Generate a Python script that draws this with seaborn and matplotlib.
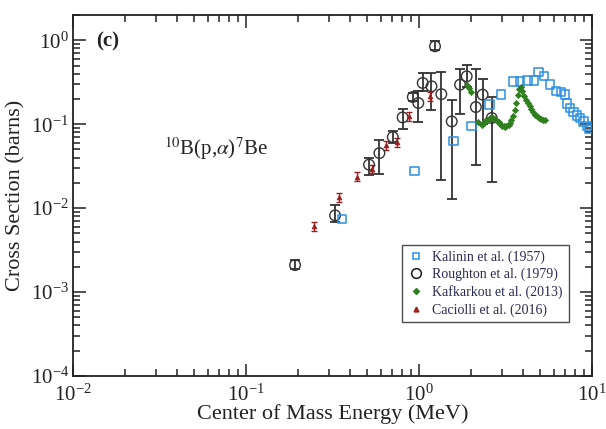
import numpy as np
import pandas as pd
import seaborn as sns
import matplotlib
matplotlib.use("Agg")
import matplotlib.pyplot as plt
from matplotlib.lines import Line2D

# ---- data ----
kal_x = [0.359, 0.94, 1.58, 2.01, 2.55, 2.98, 3.51, 3.84, 4.23, 4.62, 4.90, 5.29,
         5.72, 6.17, 6.59, 6.98, 7.14, 7.46, 7.80, 8.15, 8.53, 8.91, 9.33, 9.61]
kal_y = [0.0074, 0.0279, 0.0636, 0.096, 0.171, 0.225, 0.324, 0.324, 0.333, 0.333, 0.42, 0.372,
         0.296, 0.251, 0.24, 0.225, 0.176, 0.156, 0.140, 0.127, 0.1186, 0.108, 0.096, 0.0877]

rou_x = [0.192, 0.327, 0.514, 0.59, 0.705, 0.804, 0.92, 0.99, 1.05, 1.18, 1.237,
         1.345, 1.545, 1.726, 1.885, 2.13, 2.33, 2.63]
rou_y = [0.0021, 0.0082, 0.033, 0.0453, 0.0703, 0.1205, 0.211, 0.179, 0.31, 0.283, 0.848,
         0.228, 0.108, 0.296, 0.372, 0.160, 0.225, 0.1186]
rou_lo = [0.0019, 0.0069, 0.025, 0.0255, 0.060, 0.0877, 0.19, 0.106, 0.246, 0.149, 0.76,
          0.0218, 0.0129, 0.133, 0.278, 0.0323, 0.10, 0.0207]
rou_hi = [0.0024, 0.011, 0.0398, 0.0653, 0.0836, 0.152, 0.235, 0.251, 0.408, 0.408, 0.973,
          0.42, 0.196, 0.456, 0.513, 0.46, 0.346, 0.211]

kaf_x = [1.895, 1.95, 2.0, 2.2, 2.31, 2.36, 2.41, 2.46, 2.51, 2.57, 2.62, 2.68, 2.75,
         2.82, 2.88, 2.95, 3.02, 3.08, 3.14, 3.2, 3.29, 3.35, 3.40, 3.5, 3.59, 3.64,
         3.71, 3.78, 3.86, 3.96, 4.05, 4.15, 4.25, 4.35, 4.45, 4.56, 4.68, 4.81, 4.94,
         5.07, 5.2, 5.35]
kaf_y = [0.296, 0.27, 0.244, 0.105, 0.0986, 0.103, 0.108, 0.111, 0.113, 0.118, 0.122, 0.119, 0.115,
         0.11, 0.105, 0.1, 0.096, 0.094, 0.0926, 0.094, 0.0986, 0.104, 0.111, 0.127, 0.149, 0.179,
         0.225, 0.263, 0.278, 0.246, 0.218, 0.196, 0.178, 0.163, 0.15, 0.138, 0.13, 0.124, 0.119,
         0.115, 0.113, 0.111]

cac_x = [0.247, 0.345, 0.44, 0.537, 0.64, 0.743, 0.873, 1.15]
cac_y = [0.00615, 0.0135, 0.0238, 0.0295, 0.0563, 0.0615, 0.125, 0.217]
cac_rel = 0.12

labels = ["Kalinin et al. (1957)", "Roughton et al. (1979)",
          "Kafkarkou et al. (2013)", "Caciolli et al. (2016)"]

# ---- style ----
sns.set_theme(style="ticks")
plt.rcParams["font.family"] = ["Liberation Serif", "DejaVu Serif"]
plt.rcParams["mathtext.fontset"] = "stix"

c_kal = "#2b8fe3"
c_rou = "#1a1a1a"
c_kaf = "#2f7f1f"
c_cac = "#9a1f1f"

fig = plt.figure(figsize=(6.06, 4.29), dpi=100)
ax = fig.add_axes([0.1205, 0.1235, 0.8565, 0.8415])

# error bars
rou_y_a = np.array(rou_y)
ax.errorbar(rou_x, rou_y, yerr=[rou_y_a - np.array(rou_lo), np.array(rou_hi) - rou_y_a],
            fmt="none", ecolor="#333333", elinewidth=1.3, capsize=3.5, capthick=1.3, zorder=2)
cac_y_a = np.array(cac_y)
ax.errorbar(cac_x, cac_y, yerr=[cac_y_a * cac_rel, cac_y_a * cac_rel],
            fmt="none", ecolor=c_cac, elinewidth=1.0, capsize=2.5, capthick=1.0, zorder=2)

# markers
sns.scatterplot(x=kal_x, y=kal_y, ax=ax, marker="s", s=36, facecolors="none",
                edgecolor=c_kal, linewidth=1.1, zorder=4)
sns.scatterplot(x=rou_x, y=rou_y, ax=ax, marker="o", s=58, facecolors="none",
                edgecolor="#333333", linewidth=1.0, zorder=3)
sns.scatterplot(x=kaf_x, y=kaf_y, ax=ax, marker="D", s=10, color=c_kaf,
                edgecolor=c_kaf, linewidth=0.5, zorder=5)
sns.scatterplot(x=cac_x, y=cac_y, ax=ax, marker="^", s=12, color=c_cac,
                edgecolor=c_cac, linewidth=0.5, zorder=5)

ax.set_xscale("log")
ax.set_yscale("log")
ax.set_xlim(1e-2, 1e1)
ax.set_ylim(1e-4, 2.0)

ax.tick_params(which="both", direction="in", top=True, right=True, labelsize=15,
               colors="#222222", width=1.1)
ax.tick_params(which="major", length=9)
ax.tick_params(axis="x", which="major", pad=6)
ax.tick_params(axis="y", which="major", pad=3)
ax.tick_params(which="minor", length=5)
for sp in ax.spines.values():
    sp.set_linewidth(1.3)
    sp.set_color("#222222")

ax.set_xlabel("Center of Mass Energy (MeV)", fontsize=16, labelpad=-1, color="#222222")
ax.set_ylabel("Cross Section (barns)", fontsize=16, labelpad=4, color="#222222")

ax.text(0.045, 0.955, "(c)", transform=ax.transAxes, fontsize=15, ha="left", va="top",
        color="#222222", fontweight="semibold")
ax.text(0.175, 0.63, r"$^{10}$B(p,$\alpha$)$^{7}$Be", transform=ax.transAxes, fontsize=15,
        ha="left", va="center", color="#222222")

handles = [
    Line2D([], [], ls="none", marker="s", ms=5, mfc="none", mec=c_kal, mew=1.1),
    Line2D([], [], ls="none", marker="o", ms=7, mfc="none", mec=c_rou, mew=1.1),
    Line2D([], [], ls="none", marker="D", ms=3, mfc=c_kaf, mec=c_kaf),
    Line2D([], [], ls="none", marker="^", ms=3.5, mfc=c_cac, mec=c_cac),
]
leg = ax.legend(handles, labels, loc="lower right", bbox_to_anchor=(0.968, 0.13),
                fontsize=10, frameon=True, fancybox=False, edgecolor="#222222",
                handletextpad=0.6, borderpad=0.4, labelspacing=0.28, handlelength=1.2)
leg.get_frame().set_linewidth(1.0)
for t in leg.get_texts():
    t.set_color("#2a2a55")

fig.savefig("out.png", dpi=100)
